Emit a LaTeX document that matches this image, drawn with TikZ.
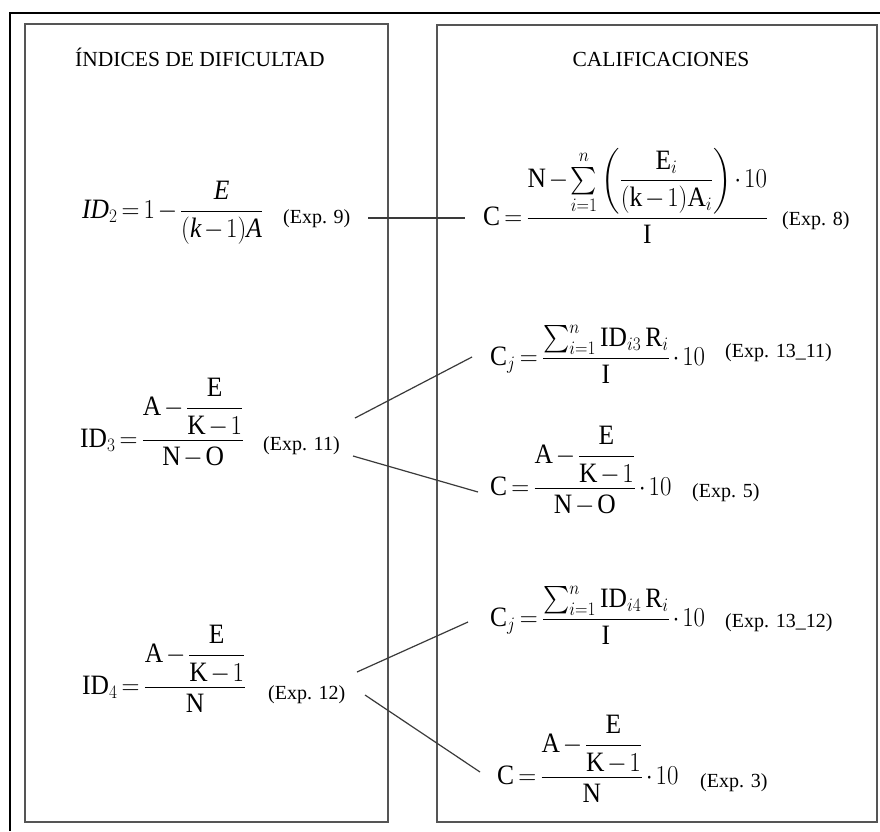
\documentclass[tikz,border=0pt]{standalone}
\usepackage{amsmath}
\usepackage{graphicx}
\usepackage{fontspec}
\setmainfont{Liberation Serif}
\definecolor{boxgray}{HTML}{555555}
\definecolor{conngray}{HTML}{3A3A3A}
\newcommand{\tightmath}{\medmuskip=2mu plus 1mu\thickmuskip=3mu plus 1mu}
\newcommand{\tallmath}[1]{\scalebox{1}[1.1]{$#1$}}
\begin{document}
\begin{tikzpicture}[x=1pt,y=-1pt,
  box/.style={draw=boxgray,line width=1.8pt},
  frm/.style={inner sep=0pt,anchor=base west,font=\fontsize{25.5}{30}\selectfont\tightmath},
  lab/.style={inner sep=0pt,anchor=base west,font=\fontsize{20}{24}\selectfont},
  hdr/.style={inner sep=0pt,anchor=base,font=\fontsize{21.5}{26}\selectfont},
  conn/.style={draw=conngray,line width=1.2pt}]
\fill[white] (0,0) rectangle (880,831);
\useasboundingbox (0,0) rectangle (880,831);
% frames
\draw[black,line width=2pt] (10,831) -- (10,13) -- (880,13);
\draw[box] (25,24) rectangle (388,822);
\draw[box] (437,25) rectangle (877,822);
% headers
\node[hdr] (h1) at (200,66) {ÍNDICES DE DIFICULTAD};
\node[hdr] (h2) at (661,66) {CALIFICACIONES};
% left column
\node[frm] (f9) at (82,218.5) {\tallmath{\mathit{ID}_2 = 1 - \dfrac{\mathit{E}}{(\mathit{k}-1)\mathit{A}}}};
\node[lab] (e9) at (283,223) {(Exp. 9)};
\node[frm] (f11) at (80,447) {\tallmath{\mathrm{ID}_3 = \dfrac{\mathrm{A}-\dfrac{\mathrm{E}}{\mathrm{K}-1}}{\mathrm{N}-\mathrm{O}}}};
\node[lab] (e11) at (263,450) {(Exp. 11)};
\node[frm] (f12) at (82,694) {\tallmath{\mathrm{ID}_4 = \dfrac{\mathrm{A}-\dfrac{\mathrm{E}}{\mathrm{K}-1}}{\mathrm{N}}}};
\node[lab] (e12) at (268,699) {(Exp. 12)};
% right column
\node[frm] (f8) at (483,225) {\tallmath{\mathrm{C} = \dfrac{\mathrm{N}-\sum\limits_{i=1}^{n}\left(\dfrac{\mathrm{E}_i}{(\mathrm{k}-1)\mathrm{A}_i}\right)\cdot 10}{\mathrm{I}}}};
\node[lab] (e8) at (782,225) {(Exp. 8)};
\node[frm] (f1311) at (490,365) {\tallmath{\mathrm{C}_j = \dfrac{\sum_{i=1}^{n}\mathrm{ID}_{i3}\,\mathrm{R}_i}{\mathrm{I}}\cdot 10}};
\node[lab] (e1311) at (725,357) {(Exp. 13\_11)};
\node[frm] (f5) at (490,495) {\tallmath{\mathrm{C} = \dfrac{\mathrm{A}-\dfrac{\mathrm{E}}{\mathrm{K}-1}}{\mathrm{N}-\mathrm{O}}\cdot 10}};
\node[lab] (e5) at (692,497) {(Exp. 5)};
\node[frm] (f1312) at (490,626) {\tallmath{\mathrm{C}_j = \dfrac{\sum_{i=1}^{n}\mathrm{ID}_{i4}\,\mathrm{R}_i}{\mathrm{I}}\cdot 10}};
\node[lab] (e1312) at (725,627) {(Exp. 13\_12)};
\node[frm] (f3) at (497,784) {\tallmath{\mathrm{C} = \dfrac{\mathrm{A}-\dfrac{\mathrm{E}}{\mathrm{K}-1}}{\mathrm{N}}\cdot 10}};
\node[lab] (e3) at (700,787) {(Exp. 3)};
% connector end points
\coordinate (a9) at (368,218);   \coordinate (b8) at (465,218);
\coordinate (a11u) at (355,418); \coordinate (b1311) at (472,357);
\coordinate (a11d) at (353,456); \coordinate (b5) at (478,492);
\coordinate (a12u) at (357,672); \coordinate (b1312) at (468,622);
\coordinate (a12d) at (365,695); \coordinate (b3) at (480,772);
\draw[conn] (a9) -- (b8);
\draw[conn] (a11u) -- (b1311);
\draw[conn] (a11d) -- (b5);
\draw[conn] (a12u) -- (b1312);
\draw[conn] (a12d) -- (b3);
\end{tikzpicture}
\end{document}
